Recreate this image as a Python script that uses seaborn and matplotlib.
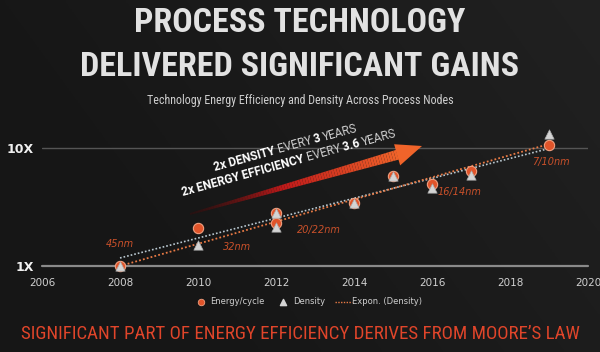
import numpy as np
import pandas as pd
import matplotlib
matplotlib.use("Agg")
import matplotlib.pyplot as plt
import seaborn as sns
from matplotlib.patches import Polygon
from matplotlib.collections import PolyCollection
from matplotlib.colors import to_rgb
from matplotlib import font_manager

# ---------------- data ----------------
energy_years = [2008, 2010, 2012, 2012, 2014, 2015, 2016, 2017, 2019]
energy_values = [1.0, 2.1, 2.8, 2.3, 3.4, 5.8, 5.0, 6.4, 10.6]
density_years = [2008, 2010, 2012, 2012, 2014, 2015, 2016, 2017, 2019]
density_values = [1.0, 1.5, 2.8, 2.15, 3.4, 5.8, 4.6, 5.9, 13.1]
trend_years = [2008, 2019]
density_trend = [1.0, 10.8]
energy_trend = [1.17, 9.9]
node_labels = ["45nm", "32nm", "20/22nm", "16/14nm", "7/10nm"]
node_x = [2008.0, 2011.0, 2013.1, 2016.7, 2019.05]
node_y = [1.55, 1.45, 2.0, 4.2, 7.6]
x_ticks = [2006, 2008, 2010, 2012, 2014, 2016, 2018, 2020]
y_ticks = [1, 10]
y_tick_labels = ["1X", "10X"]

energy_df = pd.DataFrame({"year": energy_years, "value": energy_values})
density_df = pd.DataFrame({"year": density_years, "value": density_values})
dtrend_df = pd.DataFrame({"year": trend_years, "value": density_trend})
etrend_df = pd.DataFrame({"year": trend_years, "value": energy_trend})

sns.set_theme(style="dark")
plt.rcParams['font.family'] = ['DejaVu Sans']

names = {f.name for f in font_manager.fontManager.ttflist}
TF = None
for cand in ["Roboto Condensed", "Liberation Sans Narrow", "Open Sans Condensed", "Roboto"]:
    if cand in names:
        TF = cand
        break
TFAM = [TF, "DejaVu Sans"] if TF else ["DejaVu Sans"]
AFAM = ["Roboto", "DejaVu Sans"] if "Roboto" in names else ["DejaVu Sans"]

ORANGE = "#e0542a"
W, H = 600, 352
fig = plt.figure(figsize=(6.0, 3.52), dpi=100)
r = fig.canvas.get_renderer()

# background gradient
bg = fig.add_axes([0, 0, 1, 1])
gx = np.linspace(0, 1, 200)
gy = np.linspace(0, 1, 120)
GX, GY = np.meshgrid(gx, gy)
lum = 0.09 + 0.055 * np.clip((GX * 0.7 + (1 - GY) * 0.3) - 0.3, 0, 1)
img = np.dstack([lum, lum, lum])
bg.imshow(img, aspect="auto", extent=[0, 1, 0, 1], origin="upper")
bg.set_axis_off()

# main axes: 2006 at x=42, 2020 at x=588; 1X at y=266, 10X at y=148
left, right = 42 / W, 588 / W
bottom = (H - 266) / H
ytop_px = 130
top = (H - ytop_px) / H
ax = fig.add_axes([left, bottom, right - left, top - bottom])
ax.set_facecolor("none")
ax.set_yscale("log")
ax.set_xlim(2006, 2020)
ax.set_ylim(1, 10 ** ((266 - ytop_px) / 118))

ax.axhline(10, color="#555555", lw=1.0, zorder=1)
ax.axhline(1, color="#8a8a8a", lw=1.6, zorder=1, clip_on=False)

sns.lineplot(data=etrend_df, x="year", y="value", ax=ax, color="#b9c8d0",
             lw=1.2, linestyle=(0, (1, 1.2)), zorder=2)
sns.lineplot(data=dtrend_df, x="year", y="value", ax=ax, color="#e87a45",
             lw=1.3, linestyle=(0, (1, 1.2)), zorder=2)

sns.scatterplot(data=energy_df, x="year", y="value", ax=ax, marker="o", s=55,
                color=ORANGE, edgecolor="#f0a080", linewidth=0.8, zorder=3, clip_on=False)
sns.scatterplot(data=density_df, x="year", y="value", ax=ax, marker="^", s=45,
                color="#d4d4d4", edgecolor="#aaaaaa", linewidth=0.5, zorder=4, clip_on=False)

for lab, xx, yy in zip(node_labels, node_x, node_y):
    ax.text(xx, yy, lab, color="#c8502a", fontsize=7, style="italic",
            ha="center", va="center", zorder=5)

ax.set_xticks(x_ticks)
ax.set_xticklabels([str(t) for t in x_ticks], color="#d0d0d0", fontsize=7.5)
ax.set_yticks(y_ticks)
ax.set_yticklabels(y_tick_labels, color="#f0f0f0", fontsize=9, fontweight="bold")
ax.yaxis.set_minor_locator(matplotlib.ticker.NullLocator())
ax.tick_params(axis="x", length=0, pad=9)
ax.tick_params(axis="y", length=0, pad=6)
ax.set_xlabel("")
ax.set_ylabel("")
ax.grid(False)
for s in ax.spines.values():
    s.set_visible(False)
if ax.get_legend():
    ax.get_legend().remove()

# ---- overlay axes in pixel coords ----
ov = fig.add_axes([0, 0, 1, 1], facecolor="none")
ov.set_xlim(0, W)
ov.set_ylim(H, 0)
ov.set_axis_off()


def text_width(txt, size, weight, fam=TFAM):
    t = ov.text(0, 0, txt, fontsize=size, fontweight=weight, family=fam)
    w = t.get_window_extent(renderer=r).width
    t.remove()
    return w


def fitted(txt, target_px, weight, base=20, fam=TFAM):
    return base * target_px / text_width(txt, base, weight, fam)


# ---- gradient arrow ----
x0, y0 = 190, 214
x1, y1 = 400, 154
tip = (422, 146)
dx, dy = x1 - x0, y1 - y0
L = np.hypot(dx, dy)
ux, uy = dx / L, dy / L
nx, ny = -uy, ux
n = 80
polys, cols = [], []
c0 = np.array(to_rgb("#4a0808"))
c1 = np.array(to_rgb("#c01a1a"))
c2 = np.array(to_rgb("#f0642a"))
for i in range(n):
    t0, t1 = i / n, (i + 1) / n
    w0 = 1.5 + 7.0 * t0
    w1 = 1.5 + 7.0 * t1
    pa = (x0 + dx * t0, y0 + dy * t0)
    pb = (x0 + dx * t1, y0 + dy * t1)
    polys.append([(pa[0] + nx * w0 * 0.6, pa[1] + ny * w0 * 0.6),
                  (pb[0] + nx * w1 * 0.6, pb[1] + ny * w1 * 0.6),
                  (pb[0] - nx * w1 * 0.6, pb[1] - ny * w1 * 0.6),
                  (pa[0] - nx * w0 * 0.6, pa[1] - ny * w0 * 0.6)])
    t = (t0 + t1) / 2
    if t < 0.45:
        c = c0 + (c1 - c0) * (t / 0.45)
    else:
        c = c1 + (c2 - c1) * ((t - 0.45) / 0.55)
    cols.append((*c, min(1.0, 0.3 + 1.6 * t)))
ov.add_collection(PolyCollection(polys, facecolors=cols, edgecolors="none"))
hw = 11
ov.add_patch(Polygon([(x1 - ux * 3 + nx * hw, y1 - uy * 3 + ny * hw), tip,
                      (x1 - ux * 3 - nx * hw, y1 - uy * 3 - ny * hw)],
                     closed=True, facecolor="#f0642a", edgecolor="none"))

ang = 15.5


def seg_text(parts, start, target_len):
    base = 10
    total = sum(text_width(p[0], base, p[1], AFAM) for p in parts)
    size = base * target_len / total
    xs, ys = start
    for txt, wt, col in parts:
        ov.text(xs, ys, txt, rotation=ang, rotation_mode="anchor", fontsize=size,
                fontweight=wt, color=col, ha="left", va="baseline", family=AFAM)
        adv = text_width(txt, size, wt, AFAM)
        xs += adv * np.cos(np.radians(ang))
        ys -= adv * np.sin(np.radians(ang))


seg_text([("2x DENSITY ", "bold", "white"), ("EVERY ", "normal", "#d0d0d0"),
          ("3 ", "bold", "white"), ("YEARS", "normal", "#d0d0d0")], (215, 171), 150)
seg_text([("2x ENERGY EFFICIENCY ", "bold", "white"), ("EVERY ", "normal", "#d0d0d0"),
          ("3.6 ", "bold", "white"), ("YEARS", "normal", "#d0d0d0")], (183, 196), 222)

# ---- titles ----
t1s = fitted("PROCESS TECHNOLOGY", 328, "bold")
t2s = fitted("DELIVERED SIGNIFICANT GAINS", 443, "bold")
tsz = (t1s + t2s) / 2
fig.text(0.5, 1 - 23 / H, "PROCESS TECHNOLOGY", ha="center", va="center",
         fontsize=tsz, fontweight="bold", color="#e2e2e2", family=TFAM)
fig.text(0.5, 1 - 67 / H, "DELIVERED SIGNIFICANT GAINS", ha="center", va="center",
         fontsize=tsz, fontweight="bold", color="#e2e2e2", family=TFAM)
sub = "Technology Energy Efficiency and Density Across Process Nodes"
fig.text(0.5, 1 - 101 / H, sub, ha="center", va="center",
         fontsize=fitted(sub, 307, "normal"), color="#cfcfcf", family=TFAM)
foot = "SIGNIFICANT PART OF ENERGY EFFICIENCY DERIVES FROM MOORE\u2019S LAW"
fig.text(0.5, 1 - 334 / H, foot, ha="center", va="center",
         fontsize=fitted(foot, 558, "normal"), color="#e0452a", family=TFAM)

# ---- legend ----
ov.scatter([201], [302], s=22, marker="o", color=ORANGE, edgecolor="#f0a080", linewidth=0.6)
ov.text(210, 302, "Energy/cycle", color="#cfcfcf", fontsize=6, va="center")
ov.scatter([283], [302], s=20, marker="^", color="#d4d4d4")
ov.text(293, 302, "Density", color="#cfcfcf", fontsize=6, va="center")
ov.plot([335, 352], [302, 302], color="#e87a45", lw=1, linestyle=(0, (1, 1)))
ov.text(352, 302, "Expon. (Density)", color="#cfcfcf", fontsize=6, va="center")

fig.savefig("out.png", dpi=100, facecolor=fig.get_facecolor())
